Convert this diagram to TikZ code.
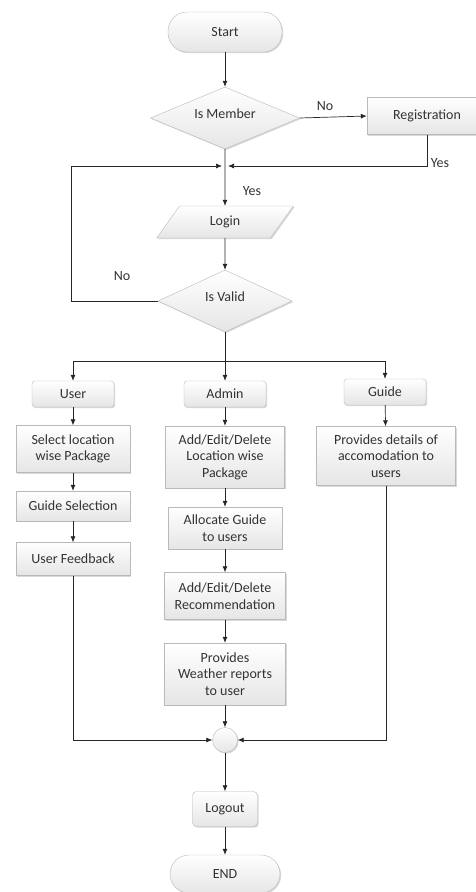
\documentclass[tikz,border=0pt]{standalone}
\usepackage{fontspec}
\setmainfont{Carlito}
\usetikzlibrary{arrows.meta,shapes.geometric,shadows}
\definecolor{txtgray}{HTML}{333333}
\begin{document}
\begin{tikzpicture}[x=1pt, y=-1pt,
            shape base/.style={draw=gray!55, top color=white, bottom color=gray!20,
                drop shadow={shadow xshift=1.2pt, shadow yshift=-1.2pt, opacity=0.3},
                text=txtgray, font=\fontsize{14}{16.5}\selectfont, align=center, inner sep=1pt},
            box/.style={shape base, rectangle},
            softbox/.style={shape base, rectangle, rounded corners=3pt},
            terminal/.style={shape base, rectangle, rounded corners=19pt, minimum width=114pt, minimum height=40pt},
            decision/.style={shape base, diamond, aspect=2.4, text depth=9pt},
            io/.style={shape base, trapezium, trapezium left angle=60, trapezium right angle=120,
                trapezium stretches=true},
            arr/.style={-{Latex[length=6pt, width=5pt]}, draw=black!85, line width=0.7pt},
            line/.style={draw=black!85, line width=0.7pt},
            lbl/.style={text=txtgray, font=\fontsize{14}{16}\selectfont}]
            \useasboundingbox (0,0) rectangle (476,892);
            \node[terminal] (start) at (225,32) {Start};
            \node[decision, minimum width=149pt, minimum height=62pt] (member) at (225,118) {Is Member};
            \node[box, minimum width=120pt, minimum height=37pt] (reg) at (427,116) {Registration};
            \node[io, minimum width=137pt, minimum height=32pt] (login) at (225,222) {Login};
            \node[decision, minimum width=134pt, minimum height=62pt] (valid) at (225,301) {Is Valid};
            \node[softbox, minimum width=82pt, minimum height=26pt] (user) at (73,394) {User};
            \node[softbox, minimum width=82pt, minimum height=26pt] (admin) at (225,394) {Admin};
            \node[softbox, minimum width=82pt, minimum height=26pt] (guide) at (385,392) {Guide};
            \node[box, minimum width=114pt, minimum height=47pt] (selpkg) at (73,449) {Select location\\wise Package};
            \node[box, minimum width=114pt, minimum height=30pt] (guidesel) at (73,506) {Guide Selection};
            \node[box, minimum width=114pt, minimum height=33pt] (feedback) at (73,559) {User Feedback};
            \node[box, minimum width=119pt, minimum height=62pt] (addpkg) at (225,457) {Add/Edit/Delete\\Location wise\\Package};
            \node[box, minimum width=114pt, minimum height=42pt] (allocate) at (225,528) {Allocate Guide\\to users};
            \node[box, minimum width=121pt, minimum height=47pt] (addrec) at (225,596) {Add/Edit/Delete\\Recommendation};
            \node[box, minimum width=121pt, minimum height=62pt] (weather) at (225,674) {Provides\\Weather reports\\to user};
            \node[box, minimum width=139pt, minimum height=59pt] (details) at (386,456) {Provides details of\\accomodation to\\users};
            \node[shape base, circle, minimum size=25pt] (merge) at (225,740) {};
            \node[box, rounded corners=4pt, minimum width=65pt, minimum height=35pt] (logout) at (225,809) {Logout};
            \node[terminal, minimum width=110pt, minimum height=38pt] (finish) at (225,874) {END};
            \coordinate (jl) at (222,166);
            \coordinate (jr) at (228,166);
            \coordinate (split) at (225,361);
            \node[lbl] (no1) at (325,106) {No};
            \node[lbl] (yes1) at (440,163) {Yes};
            \node[lbl] (yes2) at (252,191) {Yes};
            \node[lbl] (no2) at (122,276) {No};
            \draw[arr] (start) -- (member);
            \draw[arr] (member.east) -- (reg.west);
            \draw[arr] (reg.south) |- (jr);
            \draw[arr] (member.south) -- (login.north);
            \draw[arr] (login.south) -- (valid.north);
            \draw[arr] (valid.west) -- ++(-86,0) |- (jl);
            \draw[line] (valid.south) -- (split);
            \draw[arr] (split) -| (user.north);
            \draw[arr] (split) -- (admin.north);
            \draw[arr] (split) -| (guide.north);
            \foreach \a/\b in {user/selpkg, selpkg/guidesel, guidesel/feedback, admin/addpkg, addpkg/allocate, allocate/addrec, addrec/weather, weather/merge, guide/details, merge/logout, logout/finish}{
                \draw[arr] (\a) -- (\b);
            }
            \draw[arr] (feedback.south) |- (merge.west);
            \draw[arr] (details.south) |- (merge.east);
            \end{tikzpicture}
\end{document}
